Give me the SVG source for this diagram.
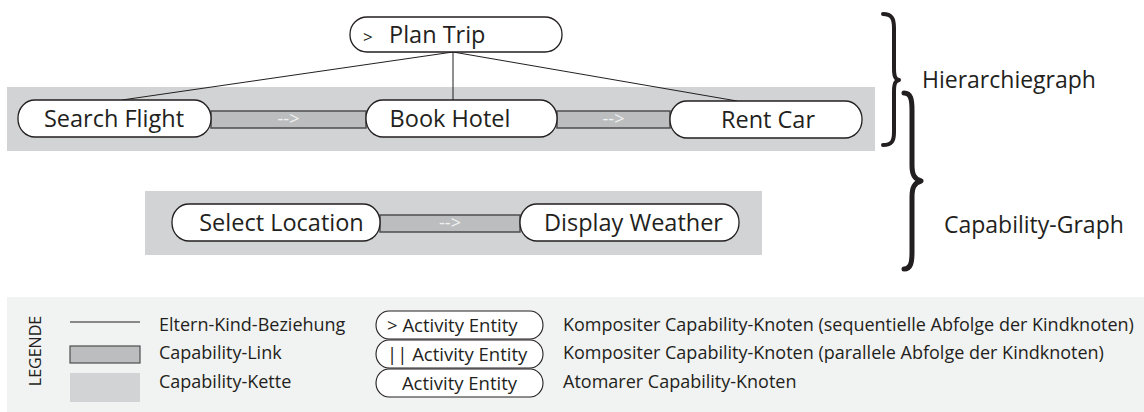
<svg xmlns="http://www.w3.org/2000/svg" width="1144" height="412" viewBox="0 0 1144 412">
<style>
.band{fill:#d1d3d4}
.node{fill:#fff;stroke:#231f20;stroke-width:1.3}
.bar{fill:#bcbdbf;stroke:#4d4d4f;stroke-width:1.5}
.lbl{font-family:"Open Sans",sans-serif;font-size:23.5px;fill:#231f20;text-anchor:middle}
.arr{font-family:"Open Sans",sans-serif;font-size:18px;fill:#f1f2f2;text-anchor:middle}
.edge{stroke:#231f20;stroke-width:1;fill:none}
.brace{stroke:#231f20;fill:none;stroke-linecap:round;stroke-linejoin:round}
.side{font-family:"Open Sans",sans-serif;font-size:23px;fill:#231f20}
.leg{font-family:"Open Sans",sans-serif;font-size:18px;fill:#231f20}
.lpill{fill:#fff;stroke:#231f20;stroke-width:1.1}
.ptxt{font-family:"Open Sans",sans-serif;font-size:18.5px;fill:#231f20}
</style>
<rect class="band" x="7" y="87" width="868" height="64"/>
<rect class="band" x="145" y="191" width="617" height="64"/>
<g id="connectors">
<line class="edge" x1="453" y1="52" x2="122" y2="100"/>
<line class="edge" x1="453" y1="52" x2="453" y2="100"/>
<line class="edge" x1="453" y1="52" x2="737" y2="101"/>
<g id="link1"><rect class="bar" x="211" y="111" width="155" height="17"/><text class="arr" x="288.5" y="125">--&gt;</text></g>
<g id="link2"><rect class="bar" x="557" y="111" width="113" height="17"/><text class="arr" x="613.5" y="125">--&gt;</text></g>
<g id="link3"><rect class="bar" x="380" y="215" width="140" height="17"/><text class="arr" x="450" y="229">--&gt;</text></g>
</g>
<g id="plan-trip"><rect class="node" x="350" y="17" width="212" height="35" rx="17" ry="17"/><text class="lbl" x="363" y="42.5" style="text-anchor:start;font-size:17px">&gt;</text><text class="lbl" x="389" y="42.5" style="text-anchor:start">Plan Trip</text></g>
<g id="search-flight"><rect class="node" x="18" y="100" width="193" height="37" rx="17" ry="18"/><text class="lbl" x="114" y="127">Search Flight</text></g>
<g id="book-hotel"><rect class="node" x="366" y="100" width="191" height="37" rx="17" ry="18"/><text class="lbl" x="450" y="127">Book Hotel</text></g>
<g id="rent-car"><rect class="node" x="670" y="101" width="192" height="37" rx="17" ry="18"/><text class="lbl" x="768" y="128">Rent Car</text></g>
<g id="select-location"><rect class="node" x="172" y="204" width="208" height="37" rx="17" ry="18"/><text class="lbl" x="281.5" y="231">Select Location</text></g>
<g id="display-weather"><rect class="node" x="520" y="204" width="219" height="37" rx="17" ry="18"/><text class="lbl" x="633.5" y="231">Display Weather</text></g>
<g id="hierarchiegraph">
<path class="brace" stroke-width="4" d="M883 14 C892 14 894 19 894 28 L894 68 C894 76 895 79 899 80 C895 81 894 84 894 92 L894 132 C894 141 892 145 883 145"/>
<text class="side" x="922" y="88">Hierarchiegraph</text>
</g>
<g id="capability-graph">
<path class="brace" stroke-width="5" d="M904 93 C911 93 912 100 912 110 L912 165 C912 174 914 179 921 181 C914 183 912 188 912 197 L912 252 C912 262 911 269 904 269"/>
<text class="side" x="944" y="233">Capability-Graph</text>
</g>
<g id="legend">
<rect x="7" y="297" width="1137" height="115" fill="#f1f2f2"/>
<text class="leg" transform="translate(41 351) rotate(-90)" text-anchor="middle" style="font-size:16px">LEGENDE</text>
<line x1="70" y1="322" x2="140" y2="322" stroke="#231f20" stroke-width="1"/>
<rect x="70" y="346" width="70" height="17" fill="#bcbdbf" stroke="#4d4d4f" stroke-width="1.2"/>
<rect x="70" y="373" width="70" height="29" fill="#d1d3d4"/>
<text class="leg" x="159" y="331">Eltern-Kind-Beziehung</text>
<text class="leg" x="159" y="359">Capability-Link</text>
<text class="leg" x="159" y="388">Capability-Kette</text>
<rect class="lpill" x="376" y="311" width="167" height="28" rx="13" ry="14"/>
<rect class="lpill" x="376" y="340" width="167" height="28" rx="13" ry="14"/>
<rect class="lpill" x="376" y="369" width="167" height="28" rx="13" ry="14"/>
<text class="ptxt" x="387" y="331.5">&gt; Activity Entity</text>
<text class="ptxt" x="387" y="360.5">|| Activity Entity</text>
<text class="ptxt" x="459.5" y="389.5" text-anchor="middle">Activity Entity</text>
<text class="leg" x="563" y="331">Kompositer Capability-Knoten (sequentielle Abfolge der Kindknoten)</text>
<text class="leg" x="563" y="359">Kompositer Capability-Knoten (parallele Abfolge der Kindknoten)</text>
<text class="leg" x="563" y="388">Atomarer Capability-Knoten</text>
</g>
</svg>
